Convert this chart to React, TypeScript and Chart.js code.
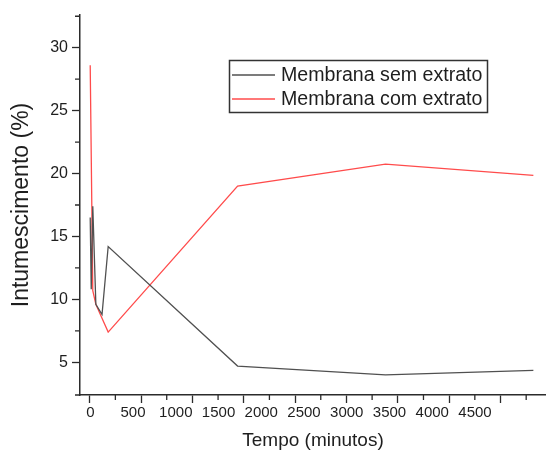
import React, { useEffect, useRef } from "react";
import { Chart, registerables } from "chart.js";

Chart.register(...registerables);

// ---- data ----
const timesSem = [5, 15, 30, 60, 120, 180, 1440, 2880, 4320];
const semExtrato = [16.5, 10.8, 17.4, 9.6, 8.8, 14.2, 4.7, 4.0, 4.35];
const timesCom = [5, 30, 60, 120, 180, 1440, 2880, 4320];
const comExtrato = [28.6, 10.7, 9.6, 8.5, 7.4, 19.0, 20.75, 19.85];

const seriesLabels = ["Membrana sem extrato", "Membrana com extrato"];

// ---- ticks ----
const xMajorTicks = [0, 500, 1000, 1500, 2000, 2500, 3000, 3500, 4000];
const xMinorTicks = [250, 750, 1250, 1750, 2250, 2750, 3250, 3750, 4250];
const xTickLabels = [0, 500, 1000, 1500, 2000, 2500, 3000, 3500, 4000, 4500];
const yMajorTicks = [5, 10, 15, 20, 25, 30];
const yMinorTicks = [7.5, 12.5, 17.5, 22.5, 27.5, 32.5];

const FONT = "'Liberation Sans', Arial, sans-serif";
const AXIS = "#2b2b2b";
const TEXT = "#1e1e1e";
const GREY = "#505050";
const RED = "rgb(255, 75, 75)";

const decorations = {
  id: "decorations",
  afterDraw(chart: any) {
    const { ctx, chartArea, scales } = chart;
    const x = scales.x;
    const y = scales.y;
    ctx.save();
    ctx.strokeStyle = AXIS;
    ctx.lineWidth = 1.3;
    ctx.beginPath();
    for (const v of xMinorTicks) {
      const px = x.getPixelForValue(v);
      ctx.moveTo(px, chartArea.bottom);
      ctx.lineTo(px, chartArea.bottom + 5);
    }
    for (const v of yMinorTicks) {
      const py = y.getPixelForValue(v);
      ctx.moveTo(chartArea.left, py);
      ctx.lineTo(chartArea.left - 5, py);
    }
    ctx.moveTo(chartArea.left - 5, chartArea.bottom);
    ctx.lineTo(chartArea.left, chartArea.bottom);
    ctx.stroke();

    // legend box
    const bx = 229.5, by = 60.5, bw = 258, bh = 52;
    ctx.lineWidth = 1.5;
    ctx.strokeStyle = "#333333";
    ctx.strokeRect(bx, by, bw, bh);
    ctx.font = `19.6px ${FONT}`;
    ctx.textBaseline = "middle";
    ctx.textAlign = "left";
    chart.data.datasets.forEach((ds: any, i: number) => {
      const ly = 75 + i * 24;
      ctx.strokeStyle = ds.borderColor;
      ctx.lineWidth = 1.3;
      ctx.beginPath();
      ctx.moveTo(232, ly);
      ctx.lineTo(275, ly);
      ctx.stroke();
      ctx.fillStyle = TEXT;
      ctx.fillText(ds.label, 281, ly + 1);
    });
    ctx.restore();
  },
};

export default function App() {
  const ref = useRef<HTMLCanvasElement>(null);
  useEffect(() => {
    if (!ref.current) return;
    const chart = new Chart(ref.current, {
      type: "line",
      data: {
        datasets: [
          {
            label: seriesLabels[0],
            data: timesSem.map((t, i) => ({ x: t, y: semExtrato[i] })),
            borderColor: GREY,
            borderWidth: 1.3,
            pointRadius: 0,
            tension: 0,
          },
          {
            label: seriesLabels[1],
            data: timesCom.map((t, i) => ({ x: t, y: comExtrato[i] })),
            borderColor: RED,
            borderWidth: 1.3,
            pointRadius: 0,
            tension: 0,
          },
        ],
      },
      options: {
        animation: false,
        responsive: false,
        maintainAspectRatio: false,
        layout: { padding: { top: 15, right: 0, left: 0, bottom: 0 } },
        plugins: { legend: { display: false }, tooltip: { enabled: false } },
        scales: {
          x: {
            type: "linear",
            position: "bottom",
            min: -94.4,
            max: 4443,
            afterBuildTicks: (s: any) => {
              s.ticks = xMajorTicks.map((v) => ({ value: v }));
            },
            afterFit: (s: any) => {
              s.height = 8;
            },
            ticks: { display: false },
            grid: { drawOnChartArea: false, color: AXIS, tickLength: 8, tickWidth: 1.3 },
            border: { display: true, color: AXIS, width: 1.5 },
          },
          x2: {
            type: "linear",
            position: "bottom",
            min: -120.5,
            max: 5330.5,
            afterBuildTicks: (s: any) => {
              s.ticks = xTickLabels.map((v) => ({ value: v }));
            },
            afterFit: (s: any) => {
              s.height = 49;
            },
            ticks: {
              padding: 1,
              color: TEXT,
              font: { family: FONT, size: 15 },
              maxRotation: 0,
              autoSkip: false,
              callback: (v: any) => String(v),
            },
            grid: { display: false, drawTicks: false },
            border: { display: false },
            title: {
              display: true,
              text: "Tempo (minutos)",
              color: TEXT,
              font: { family: FONT, size: 19 },
              padding: { top: 0, bottom: 0 },
            },
          },
          y: {
            type: "linear",
            min: 2.4,
            max: 32.6,
            afterBuildTicks: (s: any) => {
              s.ticks = yMajorTicks.map((v) => ({ value: v }));
            },
            afterFit: (s: any) => {
              s.width = 80;
            },
            ticks: {
              padding: 4,
              color: TEXT,
              font: { family: FONT, size: 16 },
              callback: (v: any) => String(v),
            },
            grid: { drawOnChartArea: false, color: AXIS, tickLength: 8, tickWidth: 1.3 },
            border: { display: true, color: AXIS, width: 1.5 },
            title: {
              display: true,
              text: "Intumescimento (%)",
              color: TEXT,
              font: { family: FONT, size: 23 },
              padding: { top: 8, bottom: 0 },
            },
          },
        },
      },
      plugins: [decorations],
    });
    return () => chart.destroy();
  }, []);
  return (
    <div style={{ position: "absolute", left: 0, top: 0, width: 546, height: 452 }}>
      <canvas ref={ref} width={546} height={452} />
    </div>
  );
}
